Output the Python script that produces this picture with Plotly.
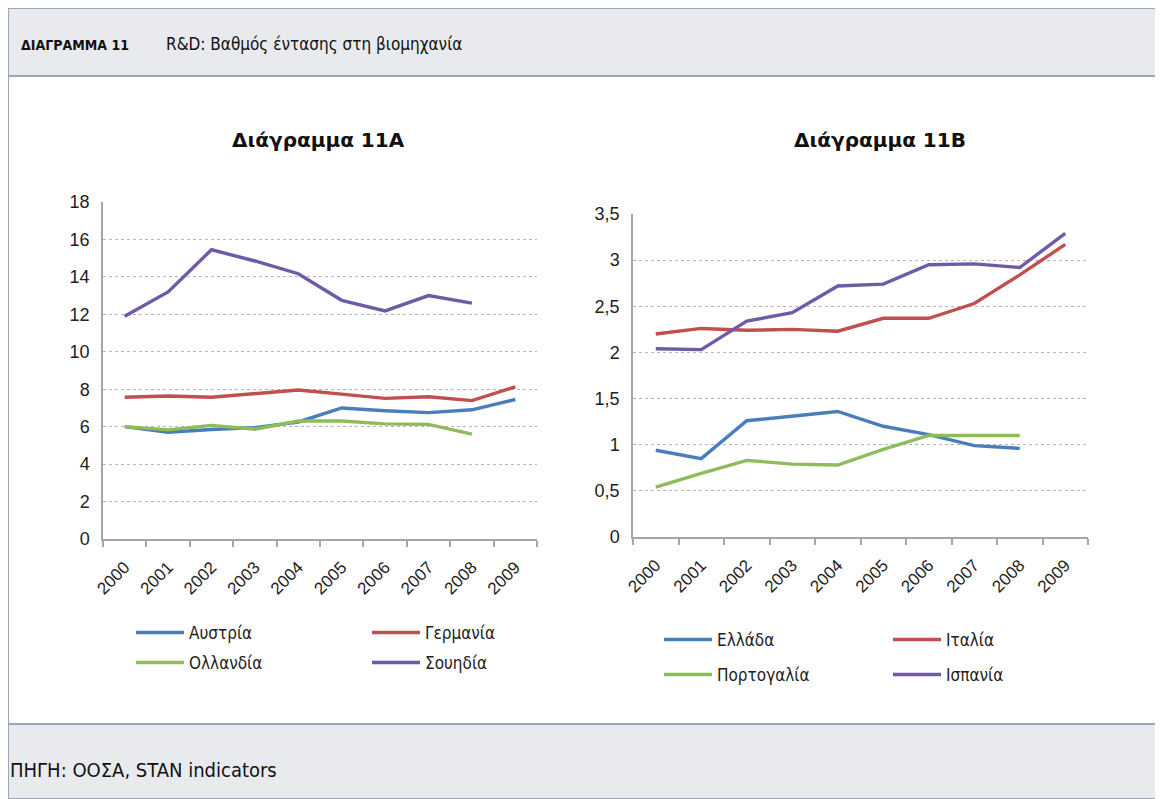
import plotly.graph_objects as go

# the page body keeps its default 8px margin, so the figure is 8px smaller
# and every reference pixel position is shifted by that offset
W, H = 1163, 799
OFF = 8
FW, FH = W - OFF, H - OFF

# ---- data ----
years = ["2000", "2001", "2002", "2003", "2004", "2005", "2006", "2007", "2008", "2009"]

# Διάγραμμα 11Α
austria = [6.0, 5.7, 5.85, 5.95, 6.25, 7.0, 6.85, 6.75, 6.9, 7.45]
germany = [7.57, 7.64, 7.57, 7.78, 7.96, 7.74, 7.51, 7.6, 7.39, 8.13]
netherlands = [6.0, 5.83, 6.07, 5.86, 6.3, 6.3, 6.15, 6.12, 5.6]
sweden = [11.9, 13.2, 15.45, 14.85, 14.17, 12.75, 12.18, 13.0, 12.6]

# Διάγραμμα 11Β
greece = [0.94, 0.85, 1.26, 1.31, 1.36, 1.2, 1.11, 0.99, 0.96]
italy = [2.2, 2.26, 2.24, 2.25, 2.23, 2.37, 2.37, 2.53, 2.84, 3.17]
portugal = [0.54, 0.69, 0.83, 0.79, 0.78, 0.95, 1.1, 1.1, 1.1]
spain = [2.04, 2.03, 2.34, 2.43, 2.72, 2.74, 2.95, 2.96, 2.92, 3.29]

left_ticks = [0, 2, 4, 6, 8, 10, 12, 14, 16, 18]
right_ticks = [0, 0.5, 1, 1.5, 2, 2.5, 3, 3.5]
right_ticktext = ["0", "0,5", "1", "1,5", "2", "2,5", "3", "3,5"]

BLUE, RED, GREEN, PURPLE = "#4a7ebb", "#c0504d", "#8fbc5a", "#6f5aa8"


def px(x):
    return max(x - OFF, 0) / FW


def py(y):
    return 1 - max(y - OFF, 0) / FH


fig = go.Figure()

# traces: (name, values, color, axis, legend key)
series = [
    ("Αυστρία", austria, BLUE, "x", "y", "legend"),
    ("Γερμανία", germany, RED, "x", "y", "legend2"),
    ("Ολλανδία", netherlands, GREEN, "x", "y", "legend3"),
    ("Σουηδία", sweden, PURPLE, "x", "y", "legend4"),
    ("Ελλάδα", greece, BLUE, "x2", "y2", "legend5"),
    ("Ιταλία", italy, RED, "x2", "y2", "legend6"),
    ("Πορτογαλία", portugal, GREEN, "x2", "y2", "legend7"),
    ("Ισπανία", spain, PURPLE, "x2", "y2", "legend8"),
]
for name, vals, color, xa, ya, lg in series:
    fig.add_trace(go.Scatter(
        x=years[:len(vals)], y=vals, name=name, mode="lines",
        line=dict(color=color, width=3.4),
        xaxis=xa, yaxis=ya, legend=lg,
    ))

tick_font = dict(family="Liberation Sans, Arial, sans-serif", size=18, color="#222")
axis_common = dict(
    showline=True, linecolor="#a6a6a6", linewidth=1.5,
)
xcommon = dict(
    type="category", range=[-0.5, len(years) - 0.5], tickangle=-45, ticks="outside",
    tickson="boundaries", ticklen=6, tickcolor="#a6a6a6", tickwidth=1.5, showgrid=False,
    tickfont=dict(family="Liberation Sans, Arial, sans-serif", size=17, color="#222"),
    ticklabelstandoff=10, fixedrange=True, automargin=False, **axis_common,
)
ycommon = dict(
    showgrid=True, gridcolor="#b5b5b5", griddash="dot", gridwidth=1,
    zeroline=False, ticks="", tickfont=tick_font, ticklabelstandoff=8,
    automargin=False, **axis_common,
)

NARROW = "DejaVu Sans Condensed, sans-serif"
legend_font = dict(family=NARROW, size=17, color="#222")
legend_pos = {
    "legend": (131, 633), "legend2": (367, 633), "legend3": (131, 663), "legend4": (367, 663),
    "legend5": (659, 640), "legend6": (888, 640), "legend7": (659, 675), "legend8": (888, 675),
}
legends = {}
for key, (lx, ly) in legend_pos.items():
    legends[key] = dict(
        x=px(lx), y=py(ly), xanchor="left", yanchor="middle",
        bgcolor="rgba(0,0,0,0)", font=legend_font, itemwidth=48,
    )

BORDER = "#9aa6ba"
shapes = [
    dict(type="rect", xref="paper", yref="paper", x0=px(6), x1=px(1162), y0=py(76), y1=py(0),
         fillcolor="#e9eaee", line=dict(color=BORDER, width=2), layer="below"),
    dict(type="rect", xref="paper", yref="paper", x0=px(6), x1=px(1162), y0=py(799), y1=py(724),
         fillcolor="#e9eaee", line=dict(color=BORDER, width=2), layer="below"),
    dict(type="line", xref="paper", yref="paper", x0=px(6), x1=px(6), y0=py(799), y1=py(0),
         line=dict(color=BORDER, width=2), layer="below"),
    dict(type="line", xref="paper", yref="paper", x0=px(1162), x1=px(1162), y0=py(799), y1=py(0),
         line=dict(color=BORDER, width=2), layer="below"),
]

annotations = [
    dict(text="<b>ΔΙΑΓΡΑΜΜΑ 11</b>", x=px(19), y=py(45), xanchor="left", yanchor="middle",
         font=dict(family=NARROW, size=14, color="#111")),
    dict(text="R&D: Βαθμός έντασης στη βιομηχανία", x=px(164), y=py(44), xanchor="left",
         yanchor="middle", font=dict(family=NARROW, size=17, color="#111")),
    dict(text="<b>Διάγραμμα 11Α</b>", x=px(318), y=py(140), xanchor="center", yanchor="middle",
         font=dict(family="DejaVu Sans, sans-serif", size=20, color="#111")),
    dict(text="<b>Διάγραμμα 11Β</b>", x=px(880), y=py(140), xanchor="center", yanchor="middle",
         font=dict(family="DejaVu Sans, sans-serif", size=20, color="#111")),
    dict(text="ΠΗΓΗ: ΟΟΣΑ, STAN indicators", x=px(8), y=py(770), xanchor="left",
         yanchor="middle", font=dict(family=NARROW, size=20, color="#111")),
]
for a in annotations:
    a.update(xref="paper", yref="paper", showarrow=False)

fig.update_layout(
    width=FW, height=FH, autosize=False,
    margin=dict(l=0, r=0, t=0, b=0, pad=0, autoexpand=False),
    paper_bgcolor="white", plot_bgcolor="white",
    showlegend=True,
    xaxis=dict(domain=[px(103), px(537)], anchor="y", **xcommon),
    yaxis=dict(domain=[py(539), py(202)], anchor="x", range=[0, 18],
               tickvals=left_ticks, **ycommon),
    xaxis2=dict(domain=[px(633), px(1088)], anchor="y2", **xcommon),
    yaxis2=dict(domain=[py(537), py(214)], anchor="x2", range=[0, 3.5],
                tickvals=right_ticks, ticktext=right_ticktext, **ycommon),
    shapes=shapes,
    annotations=annotations,
    **legends,
)

fig.write_html("out.html")
